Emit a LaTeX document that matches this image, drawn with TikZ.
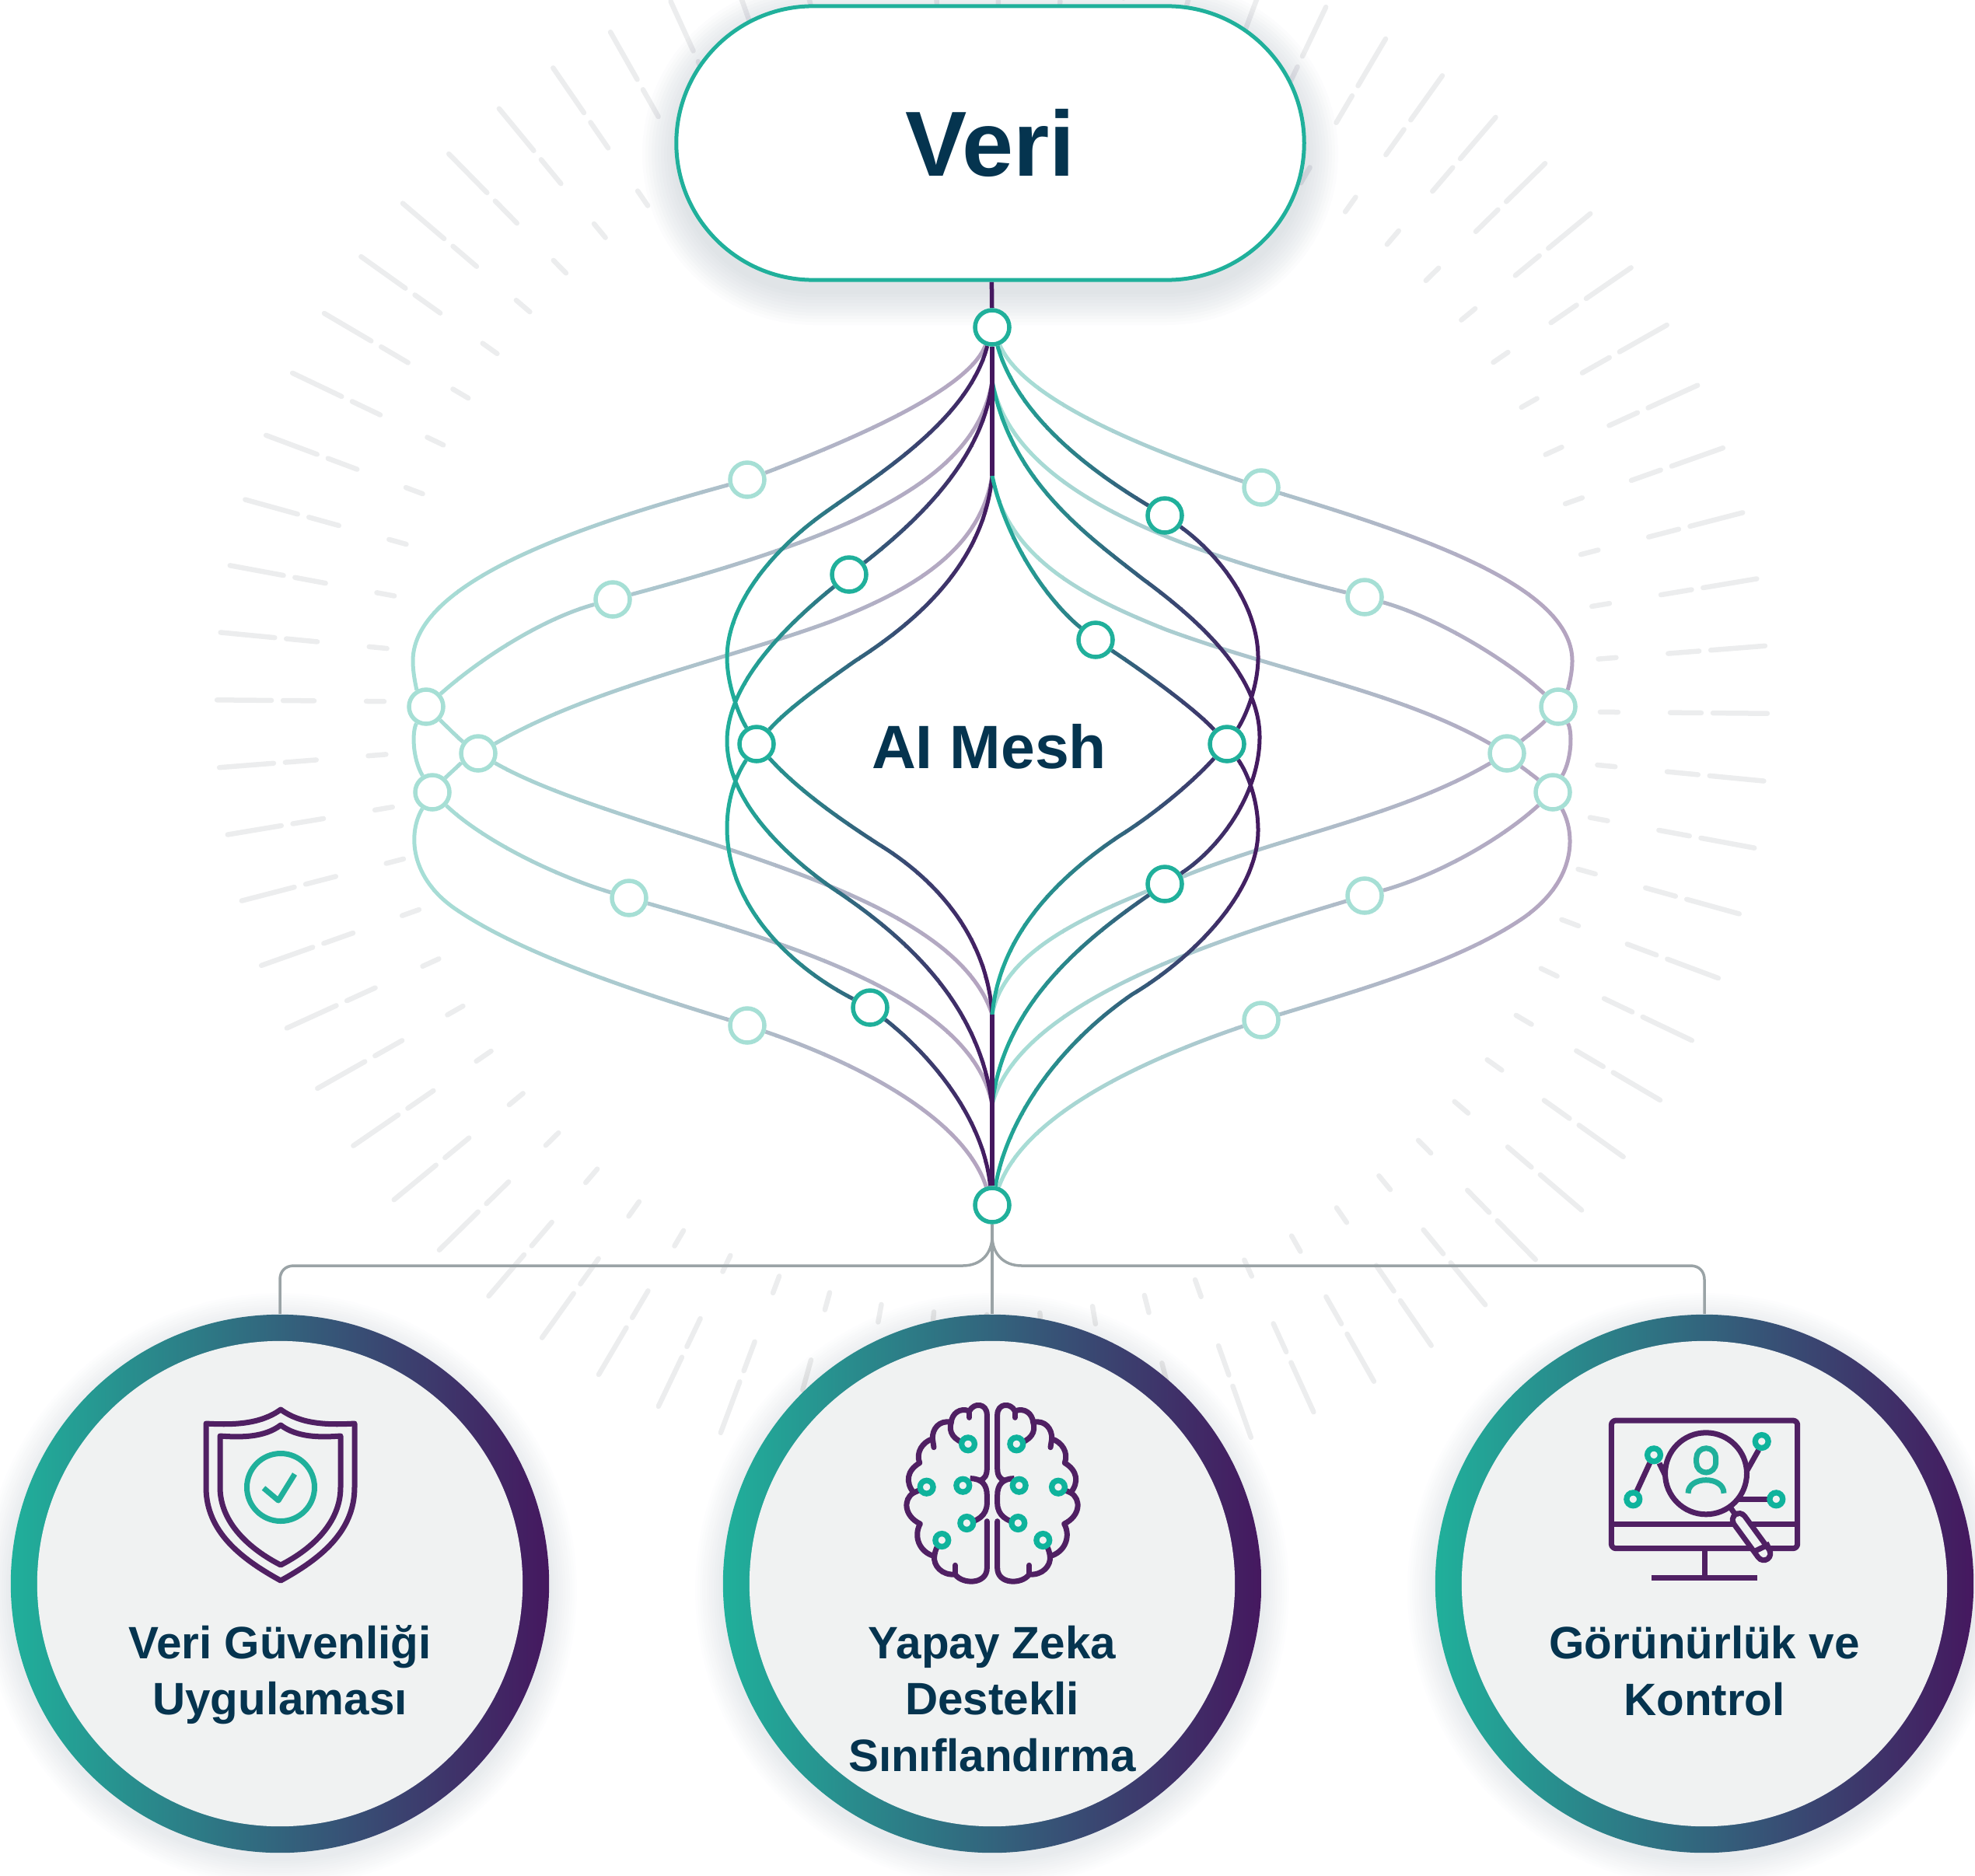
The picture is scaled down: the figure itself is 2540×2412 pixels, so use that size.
\documentclass[tikz,border=0pt]{standalone}
\usepackage{fontspec}
\usetikzlibrary{calc}
\setmainfont{Liberation Sans}
\definecolor{meshgreen}{HTML}{20B09B}
\definecolor{meshpurple}{HTML}{45185F}
\definecolor{palegreen}{HTML}{A6DFD5}
\definecolor{inkblue}{HTML}{05344F}
\definecolor{iconpurple}{HTML}{502063}
\definecolor{icongreen}{HTML}{0FB39C}
\definecolor{discgrey}{HTML}{F0F2F2}
\definecolor{raygrey}{HTML}{ECEDEE}
\definecolor{busgrey}{HTML}{9AA3A6}
\definecolor{shadowblue}{HTML}{5F7385}
\pgfdeclarelayer{rays}
\pgfdeclarelayer{links}
\pgfsetlayers{rays,links,main}
\tikzset{
  raydash/.style={raygrey,line width=0.065cm,line cap=round},
  pillshadow/.style={shadowblue,opacity=0.02},
  discshadow/.style={shadowblue,opacity=0.012},
  meshdark/.style={stripc,line width=0.05cm},
  meshpale/.style={stripc!40!white,line width=0.05cm},
  meshspine/.style={meshpurple,line width=0.055cm},
  busline/.style={busgrey,line width=0.035cm},
  greendot/.style={circle,draw=meshgreen,fill=white,line width=0.055cm,minimum size=0.44cm,inner sep=0pt},
  paledot/.style={circle,draw=palegreen,fill=white,line width=0.055cm,minimum size=0.44cm,inner sep=0pt},
  veribox/.style={rectangle,rounded corners=1.76cm,draw=meshgreen,fill=white,line width=0.05cm,minimum width=8.07cm,minimum height=3.52cm,inner sep=0pt,text=inkblue,font=\bfseries\fontsize{33.8pt}{40pt}\selectfont},
  ringdisc/.style={circle,minimum size=6.92cm,inner sep=0pt,left color=meshgreen,right color=meshpurple},
  innerdisc/.style={circle,minimum size=6.24cm,inner sep=0pt,fill=discgrey},
  caption/.style={text=inkblue,align=center,font=\bfseries\fontsize{16.6pt}{20.6pt}\selectfont},
  iconline/.style={iconpurple,line width=0.07cm,line join=round},
  icondot/.style={draw=icongreen,line width=0.073cm,fill=discgrey},
  iconmark/.style={meshgreen,line width=0.07cm,line join=round},
}
\newcommand{\meshstrips}[4]{%
  \pgfmathsetmacro{\stripw}{(#2-#1)/24}
  \foreach \s in {0,...,23}
  {
    \pgfmathsetmacro{\stripx}{#1+\s*\stripw}
    \pgfmathsetmacro{\stripg}{100-100*(\s+0.5)/24}
    \colorlet{stripc}{meshgreen!\stripg!meshpurple}
    \begin{scope}
      \clip (\stripx,0) rectangle (\stripx+\stripw+1,2412);
      \draw[#3] #4;
    \end{scope}
  }%
}
\begin{document}
\begin{tikzpicture}[x=0.01cm,y=-0.01cm]
    \useasboundingbox (0,0) rectangle (2540,2412);

    \node[veribox] (veri) at (1273.5,184) {Veri};
    \node[text=inkblue,font=\bfseries\fontsize{22.4pt}{28pt}\selectfont] (mesh) at (1272,960) {AI Mesh};

    \node[greendot] (hubtop) at (1276,421) {};
    \node[greendot] (hubbottom) at (1276,1550) {};
    \foreach \n/\x/\y in {ga/1092/739,gb/973/957,gc/1119/1296,gd/1498/663,ge/1409/823,gf/1578/957,gg/1498/1137}
    {
      \node[greendot] (\n) at (\x,\y) {};
    }
    \foreach \n/\x/\y in {la/961/617,lb/788/771,lc/548/909,ld/615/969,le/556/1019,lf/809/1155,lg/961/1319,
                          ra/1622/627,rb/1755/768,rc/2004/909,rd/1938/969,re/1997/1019,rf/1755/1152,rg/1622/1312}
    {
      \node[paledot] (\n) at (\x,\y) {};
    }
    \coordinate (toptwo) at (1276,490);
    \coordinate (topthree) at (1276,612);
    \coordinate (bottwo) at (1276,1421);
    \coordinate (botthree) at (1276,1305);

    \foreach \n/\x in {secure/360,brain/1276,monitor/2192}
    {
      \node[ringdisc] (\n) at (\x,2037) {};
      \node[innerdisc] (\n inner) at (\x,2037) {};
    }
    \node[caption] (securetext) at (360,2154) {Veri Güvenliği\\Uygulaması};
    \node[caption] (braintext) at (1276,2185) {Yapay Zeka\\Destekli\\Sınıflandırma};
    \node[caption] (monitortext) at (2192,2149) {Görünürlük ve\\Kontrol};

    % shield
    \draw[iconline] (361,1813) .. controls (335,1832) and (300,1833) .. (265,1831) -- (265,1913)
      .. controls (265,1970) and (310,2005) .. (361,2033) .. controls (412,2005) and (456,1970) .. (456,1913)
      -- (456,1831) .. controls (421,1833) and (387,1832) .. (361,1813) -- cycle;
    \draw[iconline] (361,1833) .. controls (340,1849) and (310,1849) .. (283,1847) -- (283,1913)
      .. controls (283,1958) and (320,1992) .. (361,2013) .. controls (402,1992) and (438,1958) .. (438,1913)
      -- (438,1847) .. controls (412,1849) and (382,1849) .. (361,1833) -- cycle;
    \draw[iconmark] (361,1913) circle (43.5);
    \draw[iconmark] (339,1914) -- (358,1930) -- (379,1896);

    % brain
    \foreach \side in {1,-1}
    {
      \begin{scope}[shift={(1276,1760)},scale=0.3333,xscale=\side]
        \draw[iconline,line cap=round] (-45,432) .. controls (-30,425) and (-20,415) .. (-20,385) -- (-20,180)
          .. controls (-20,135) and (-70,130) .. (-88,165)
          .. controls (-125,150) and (-155,175) .. (-158,208)
          .. controls (-205,198) and (-232,235) .. (-230,272)
          .. controls (-270,285) and (-295,325) .. (-280,365)
          .. controls (-330,395) and (-335,440) .. (-303,480)
          .. controls (-345,505) and (-340,570) .. (-278,600)
          .. controls (-305,650) and (-280,710) .. (-223,725)
          .. controls (-228,760) and (-195,800) .. (-143,795)
          .. controls (-115,835) and (-20,835) .. (-20,770)
          -- (-20,590);
        \draw[iconline,line cap=round] (-88,165) -- (-88,190);
        \draw[iconline,line cap=round] (-230,272) -- (-225,305);
        \draw[iconline,line cap=round] (-143,795) -- (-143,760);
        \draw[iconline] (-98,597) .. controls (-60,590) and (-20,570) .. (-20,520) -- (-20,490)
          .. controls (-20,450) and (-40,425) .. (-85,425);
        \draw[iconline] (-158,208) .. controls (-170,245) and (-150,280) .. (-93,292);
        \draw[iconline] (-303,480) -- (-253,458);
        \draw[iconline] (-223,725) .. controls (-220,700) and (-210,680) .. (-194,663);
      \end{scope}
    }
    \foreach \x/\y in {1245/1857.3,1238.3/1910.7,1191.7/1912.7,1243.3/1959,1211.3/1981,
                       1307.3/1857.3,1310.7/1910.7,1361/1912.7,1309.3/1959,1341.3/1981}
    {
      \draw[icondot] (\x,\y) circle (8.4);
    }

    % monitor
    \draw[iconline,rounded corners=0.06cm] (2072.3,1827) rectangle (2311.7,1991.7);
    \draw[iconline] (2072.3,1960.7) -- (2311.7,1960.7);
    \draw[iconline] (2192.3,1992) -- (2192.3,2029.7);
    \draw[iconline] (2124,2029.7) -- (2260,2029.7);
    \draw[iconline] (2105,1918) -- (2121.7,1881.7);
    \draw[iconline] (2134,1882) -- (2141.7,1898);
    \draw[iconline] (2261.7,1865) -- (2246.7,1891.7);
    \draw[iconline] (2230,1928.3) -- (2273,1928.3);
    \draw[iconline] (2224,1937) -- (2233,1950);
    \draw[iconline,line width=0.24cm,line cap=round] (2236.7,1955) -- (2268.3,1998.3);
    \draw[discgrey,line width=0.1cm,line cap=round] (2236.7,1955) -- (2268.3,1998.3);
    \draw[iconline] (2255,1996) -- (2276,1986);
    \draw[iconline,fill=discgrey] (2194,1895.3) circle (52.5);
    \foreach \x/\y in {2100.3/1928.3,2127/1871.3,2265.7/1854,2284.3/1928.3}
    {
      \draw[icondot] (\x,\y) circle (8.4);
    }
    \draw[iconmark,rounded corners=0.125cm] (2181.7,1862.7) rectangle (2206.7,1894);
    \draw[iconmark] (2171,1920.7) .. controls (2171,1898) and (2217,1898) .. (2217,1920.7);

    \begin{pgfonlayer}{links}
      \meshstrips{525}{1280}{meshpale}{
        (hubtop) .. controls (1250,490) and (1150,545) .. (la)
        (la) .. controls (760,672) and (531,745) .. (531,850) .. controls (531,870) and (537,890) .. (lc)
        (toptwo) .. controls (1255,620) and (1090,690) .. (lb)
        (lb) .. controls (700,795) and (620,845) .. (lc)
        (topthree) .. controls (1260,710) and (1170,760) .. (1067,800) .. controls (930,850) and (760,885) .. (ld)
        (lc) .. controls (570,930) and (590,950) .. (ld)
        (ld) .. controls (595,980) and (575,998) .. (le)
        (lc) .. controls (530,940) and (530,975) .. (le)
        (le) .. controls (525,1070) and (525,1130) .. (590,1172) .. controls (670,1225) and (800,1270) .. (lg)
        (lg) .. controls (1110,1370) and (1240,1440) .. (hubbottom)
        (le) .. controls (620,1080) and (710,1125) .. (lf)
        (lf) .. controls (1000,1210) and (1250,1280) .. (bottwo)
        (ld) .. controls (800,1075) and (1220,1130) .. (botthree)
      }
      \meshstrips{1272}{2030}{meshpale}{
        (hubtop) .. controls (1310,500) and (1420,560) .. (ra)
        (ra) .. controls (1830,690) and (2022,755) .. (2022,850) .. controls (2022,870) and (2015,890) .. (rc)
        (toptwo) .. controls (1300,620) and (1480,700) .. (rb)
        (rb) .. controls (1850,795) and (1940,850) .. (rc)
        (topthree) .. controls (1295,720) and (1400,770) .. (1500,810) .. controls (1650,865) and (1800,890) .. (rd)
        (rc) .. controls (1980,935) and (1960,950) .. (rd)
        (rd) .. controls (1955,985) and (1975,1000) .. (re)
        (rc) .. controls (2022,940) and (2022,975) .. (re)
        (re) .. controls (2025,1070) and (2030,1130) .. (1960,1180) .. controls (1880,1235) and (1760,1270) .. (rg)
        (rg) .. controls (1480,1360) and (1320,1430) .. (hubbottom)
        (re) .. controls (1930,1080) and (1850,1125) .. (rf)
        (rf) .. controls (1560,1210) and (1310,1290) .. (bottwo)
        (rd) .. controls (1800,1050) and (1650,1075) .. (gg)
        (gg) .. controls (1380,1185) and (1290,1230) .. (botthree)
      }
      \meshstrips{930}{1280}{meshdark}{
        (hubtop) .. controls (1245,540) and (1130,610) .. (1060,660) .. controls (990,710) and (935,780) .. (935,846)
          .. controls (935,880) and (950,920) .. (gb)
        (toptwo) .. controls (1265,590) and (1180,670) .. (ga)
        (ga) .. controls (1010,805) and (935,880) .. (935,953) .. controls (935,1030) and (1010,1100) .. (1070,1142)
          .. controls (1180,1215) and (1260,1300) .. (bottwo)
        (topthree) .. controls (1265,730) and (1170,805) .. (1100,850) .. controls (1050,885) and (1010,915) .. (gb)
        (gb) .. controls (1030,1020) and (1090,1060) .. (1130,1086) .. controls (1210,1135) and (1270,1210) .. (botthree)
        (gb) .. controls (945,1000) and (935,1030) .. (935,1065) .. controls (935,1160) and (1010,1240) .. (gc)
        (gc) .. controls (1200,1360) and (1265,1440) .. (hubbottom)
      }
      \meshstrips{1272}{1622}{meshdark}{
        (hubtop) .. controls (1310,540) and (1410,610) .. (gd)
        (gd) .. controls (1570,715) and (1618,780) .. (1618,846) .. controls (1618,885) and (1600,925) .. (gf)
        (toptwo) .. controls (1300,620) and (1400,690) .. (1470,745) .. controls (1545,800) and (1620,870) .. (1620,948)
          .. controls (1620,1020) and (1570,1090) .. (gg)
        (gg) .. controls (1400,1205) and (1290,1290) .. (bottwo)
        (topthree) .. controls (1295,700) and (1350,775) .. (ge)
        (ge) .. controls (1480,870) and (1540,915) .. (gf)
        (gf) .. controls (1530,1010) and (1480,1050) .. (1440,1075) .. controls (1350,1135) and (1285,1210) .. (botthree)
        (gf) .. controls (1605,995) and (1618,1030) .. (1618,1068) .. controls (1618,1150) and (1530,1235) .. (1456,1279)
          .. controls (1360,1345) and (1295,1440) .. (hubbottom)
      }
      \draw[meshspine] (veri) -- (hubtop);
      \draw[meshspine] (hubtop) -- (topthree);
      \draw[meshspine] (botthree) -- (hubbottom);
      \draw[busline] (hubbottom) -- (brain);
      \draw[busline] (hubbottom.south) -- (1276,1590) .. controls (1276,1612) and (1262,1628) .. (1238,1628)
        -- (378,1628) .. controls (367,1628) and (360,1635) .. (360,1646) -- (secure.north);
      \draw[busline] (hubbottom.south) -- (1276,1590) .. controls (1276,1612) and (1290,1628) .. (1314,1628)
        -- (2174,1628) .. controls (2185,1628) and (2192,1635) .. (2192,1646) -- (monitor.north);
    \end{pgfonlayer}

    \begin{pgfonlayer}{rays}
      \begin{scope}
        \clip (0,0) rectangle (2540,2412);
        \foreach \a in {0,5,...,355}
        {
          \draw[raydash] ($(1276,909)+(\a+0.5:997)$) -- ($(1276,909)+(\a+0.5:927)$);
          \draw[raydash] ($(1276,909)+(\a+0.5:912)$) -- ($(1276,909)+(\a+0.5:872)$);
          \draw[raydash] ($(1276,909)+(\a+0.5:805)$) -- ($(1276,909)+(\a+0.5:782)$);
        }
        \foreach \e in {4,8,...,44}
        {
          \fill[pillshadow,rounded corners=1.76cm+\e*0.01cm] (870-\e,22-\e) rectangle (1677+\e,374+\e);
        }
        \foreach \e in {3,6,...,36}
        {
          \foreach \x in {360,1276,2192}
          {
            \fill[discshadow] (\x,2045) circle (346+\e);
          }
        }
      \end{scope}
    \end{pgfonlayer}
  \end{tikzpicture}
\end{document}
